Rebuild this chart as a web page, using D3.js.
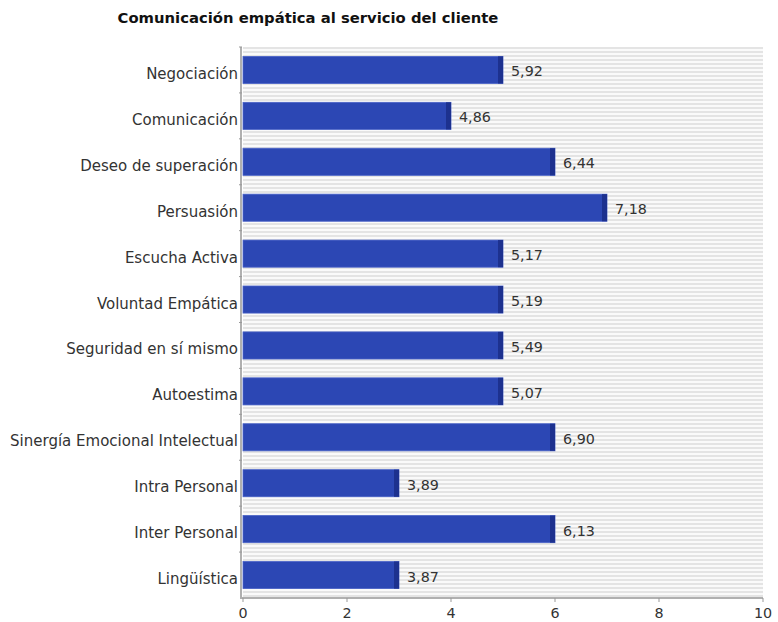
<!DOCTYPE html>
<html><head><meta charset="utf-8">
<script src="https://cdn.jsdelivr.net/npm/d3@7"></script>
<style>body{margin:0;background:#fff}svg{display:block}text{font-family:"DejaVu Sans",sans-serif}</style>
</head><body><svg id="c" width="778" height="622"></svg>
<script>
const title = "Comunicación empática al servicio del cliente";
const categories = ["Negociación","Comunicación","Deseo de superación","Persuasión","Escucha Activa","Voluntad Empática","Seguridad en sí mismo","Autoestima","Sinergía Emocional Intelectual","Intra Personal","Inter Personal","Lingüística"];
const values = [5.92,4.86,6.44,7.18,5.17,5.19,5.49,5.07,6.90,3.89,6.13,3.87];
const barLengths = [5,4,6,7,5,5,5,5,6,3,6,3];
const xTicks = [0,2,4,6,8,10];

const svg = d3.select("#c");
const m = {l:243, r:763, t:47, b:598};
const x = d3.scaleLinear().domain([0,10]).range([m.l, m.r]);
const y = d3.scaleBand().domain(categories).range([m.t, m.b]).paddingInner(0.41).paddingOuter(0.205);

const defs = svg.append("defs");
const pat = defs.append("pattern").attr("id","stripes").attr("patternUnits","userSpaceOnUse")
  .attr("width",8).attr("height",4).attr("y", m.t);
pat.append("rect").attr("width",8).attr("height",4).attr("fill","#fafafa");
pat.append("rect").attr("width",8).attr("height",2).attr("fill","#e4e4e4");

svg.append("rect").attr("x",m.l).attr("y",m.t).attr("width",m.r-m.l).attr("height",m.b-m.t).attr("fill","url(#stripes)");

svg.append("text").attr("x",308).attr("y",23).attr("text-anchor","middle")
  .attr("font-size",14.8).attr("font-weight","bold").attr("fill","#111").text(title);

const g = svg.append("g");
categories.forEach((c,i)=>{
  const y0 = y(c), h = y.bandwidth();
  const xe = x(barLengths[i]);
  g.append("rect").attr("x",x(0)).attr("y",y0).attr("width",xe-x(0)).attr("height",h)
    .attr("fill","#2c47b4").attr("stroke","#4a63c8").attr("stroke-width",0.8);
  g.append("rect").attr("x",xe-5).attr("y",y0).attr("width",5).attr("height",h).attr("fill","#1d318f");
  g.append("text").attr("x",xe+8).attr("y",y0+h/2+6.5)
    .attr("font-size",14.3).attr("fill","#333").text(d3.format(".2f")(values[i]).replace(".",","));
});

// y axis
const ya = svg.append("g");
ya.append("line").attr("x1",m.l-2).attr("x2",m.l-2).attr("y1",m.t).attr("y2",m.b).attr("stroke","#b0b0b0").attr("stroke-width",2);
const bounds = [m.t].concat(categories.map(c=>y(c)+y.bandwidth()+y.step()*y.paddingInner()/2));
bounds.slice(0,-1).forEach(b=>{
  ya.append("line").attr("x1",m.l-4).attr("x2",m.l-1).attr("y1",b).attr("y2",b).attr("stroke","#999");
});
categories.forEach(c=>{
  ya.append("text").attr("x",m.l-5).attr("y",y(c)+y.bandwidth()/2+9)
    .attr("text-anchor","end").attr("font-size",15).attr("fill","#333").text(c);
});

// x axis
const xa = svg.append("g");
xa.append("line").attr("x1",m.l-3).attr("x2",m.r).attr("y1",m.b).attr("y2",m.b).attr("stroke","#b0b0b0").attr("stroke-width",2);
xTicks.forEach(t=>{
  xa.append("line").attr("x1",x(t)).attr("x2",x(t)).attr("y1",m.b).attr("y2",m.b+4).attr("stroke","#999");
  xa.append("text").attr("x",x(t)).attr("y",m.b+20).attr("text-anchor","middle")
    .attr("font-size",14.3).attr("fill","#333").text(t);
});
</script></body></html>
